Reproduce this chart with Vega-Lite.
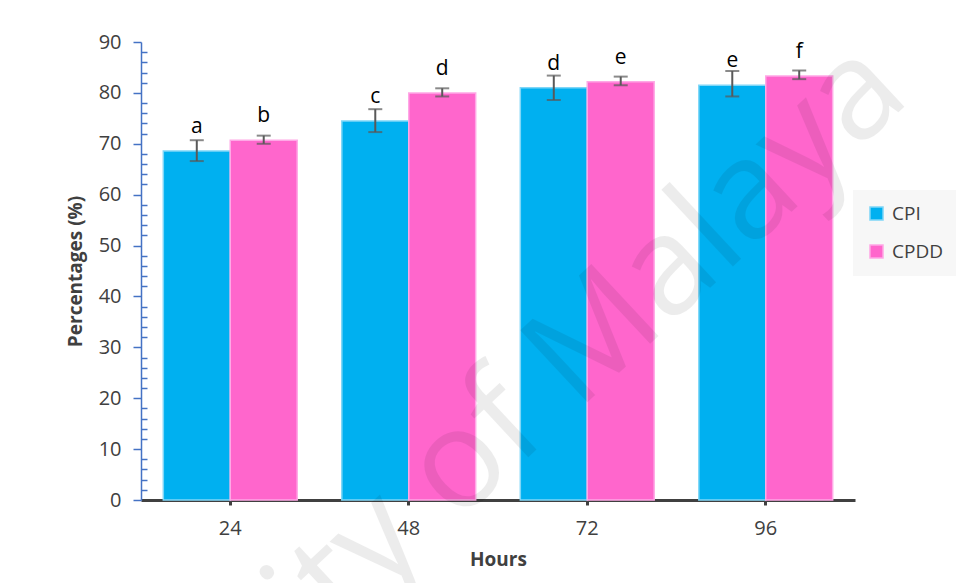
{
  "$schema": "https://vega.github.io/schema/vega-lite/v6.json",
  "width": 714,
  "height": 458,
  "autosize": {"type": "none"},
  "padding": {"left": 141, "top": 42, "right": 101, "bottom": 83},
  "background": "white",
  "config": {
    "view": {"stroke": null},
    "font": "Open Sans",
    "axisY": {
      "titleFontSize": 19, "titleFontWeight": "bold", "titleColor": "#404040", "titlePadding": 13,
      "labelOverlap": false,
      "labelFontSize": 20, "labelColor": "#404040", "labelPadding": 12,
      "grid": false,
      "domainColor": "#4472C4", "domainWidth": 1.5,
      "tickColor": "#4472C4", "tickWidth": 1.5,
      "tickCount": 100
    }
  },
  "datasets": {
    "bars": [
      {"hours": "24", "series": "CPI", "value": 68.6, "lo": 66.6, "hi": 70.7, "letter": "a"},
      {"hours": "24", "series": "CPDD", "value": 70.7, "lo": 70.0, "hi": 71.6, "letter": "b"},
      {"hours": "48", "series": "CPI", "value": 74.5, "lo": 72.3, "hi": 76.8, "letter": "c"},
      {"hours": "48", "series": "CPDD", "value": 80.0, "lo": 79.3, "hi": 80.9, "letter": "d"},
      {"hours": "72", "series": "CPI", "value": 81.0, "lo": 78.6, "hi": 83.4, "letter": "d"},
      {"hours": "72", "series": "CPDD", "value": 82.2, "lo": 81.5, "hi": 83.2, "letter": "e"},
      {"hours": "96", "series": "CPI", "value": 81.5, "lo": 79.3, "hi": 84.3, "letter": "e"},
      {"hours": "96", "series": "CPDD", "value": 83.3, "lo": 82.7, "hi": 84.4, "letter": "f"}
    ],
    "wm": [{"hours": "48", "y": -2.5, "label": "University of Malaya"}]
  },
  "encoding": {
    "x": {
      "field": "hours", "type": "nominal",
      "scale": {"domain": ["24", "48", "72", "96"], "paddingInner": 0.25, "paddingOuter": 0.125},
      "axis": {
        "title": "Hours", "titleFontSize": 19, "titleFontWeight": "bold", "titleColor": "#404040", "titlePadding": 12,
        "labelAngle": 0, "labelFontSize": 20, "labelColor": "#404040", "labelPadding": 13,
        "domainColor": "#404040", "domainWidth": 3, "tickColor": "#404040", "tickWidth": 3, "tickSize": 5
      }
    }
  },
  "layer": [
    {
      "data": {"name": "bars"},
      "mark": {"type": "bar", "strokeWidth": 1.5},
      "encoding": {
        "xOffset": {"field": "series", "type": "nominal", "scale": {"domain": ["CPI", "CPDD"], "paddingInner": 0.0}},
        "y": {
          "field": "value", "type": "quantitative",
          "scale": {"domain": [0, 90], "nice": false},
          "axis": {
            "title": "Percentages (%)",
            "tickCount": 100,
            "values": [0,2,4,6,8,10,12,14,16,18,20,22,24,26,28,30,32,34,36,38,40,42,44,46,48,50,52,54,56,58,60,62,64,66,68,70,72,74,76,78,80,82,84,86,88,90],
            "labelExpr": "datum.value % 10 === 0 ? datum.label : ''",
            "labelOverlap": false,
            "tickSize": {"condition": {"test": "datum.value % 10 === 0", "value": 8}, "value": -6}
          }
        },
        "color": {
          "field": "series", "type": "nominal",
          "scale": {"domain": ["CPI", "CPDD"], "range": ["#00B0F0", "#FF66CC"]},
          "legend": {
            "title": null, "orient": "none", "legendX": 712, "legendY": 148,
            "symbolType": "square", "symbolSize": 170, "symbolStrokeWidth": 1.5,
            "labelFontSize": 19, "labelColor": "#404040", "labelLimit": 200,
            "rowPadding": 17, "padding": 14, "fillColor": "#f7f7f7", "labelOffset": 6
          }
        },
        "stroke": {
          "field": "series", "type": "nominal",
          "scale": {"domain": ["CPI", "CPDD"], "range": ["#7fd6f7", "#ffa8e6"]},
          "legend": null
        }
      }
    },
    {
      "data": {"name": "bars"},
      "mark": {"type": "rule", "color": "#595959", "strokeWidth": 2},
      "encoding": {
        "xOffset": {"field": "series", "type": "nominal", "scale": {"domain": ["CPI", "CPDD"]}},
        "y": {"field": "lo", "type": "quantitative", "title": "Percentages (%)"},
        "y2": {"field": "hi"}
      }
    },
    {
      "data": {"name": "bars"},
      "mark": {"type": "tick", "color": "#595959", "thickness": 2, "size": 14, "orient": "horizontal"},
      "encoding": {
        "xOffset": {"field": "series", "type": "nominal", "scale": {"domain": ["CPI", "CPDD"]}},
        "y": {"field": "lo", "type": "quantitative", "title": "Percentages (%)"}
      }
    },
    {
      "data": {"name": "bars"},
      "mark": {"type": "tick", "color": "#595959", "thickness": 2, "size": 14, "orient": "horizontal"},
      "encoding": {
        "xOffset": {"field": "series", "type": "nominal", "scale": {"domain": ["CPI", "CPDD"]}},
        "y": {"field": "hi", "type": "quantitative", "title": "Percentages (%)"}
      }
    },
    {
      "data": {"name": "bars"},
      "mark": {"type": "text", "fontSize": 21, "color": "#000000", "baseline": "alphabetic", "dy": -18},
      "encoding": {
        "xOffset": {"field": "series", "type": "nominal", "scale": {"domain": ["CPI", "CPDD"]}},
        "y": {"field": "value", "type": "quantitative", "title": "Percentages (%)"},
        "text": {"field": "letter"}
      }
    },
    {
      "data": {"name": "wm"},
      "mark": {"type": "text", "fontSize": 138, "font": "Open Sans", "fill": "#000000", "opacity": 0.07, "angle": -43, "align": "center", "baseline": "middle"},
      "encoding": {
        "y": {"field": "y", "type": "quantitative", "title": "Percentages (%)"},
        "text": {"field": "label"}
      }
    }
  ]
}
